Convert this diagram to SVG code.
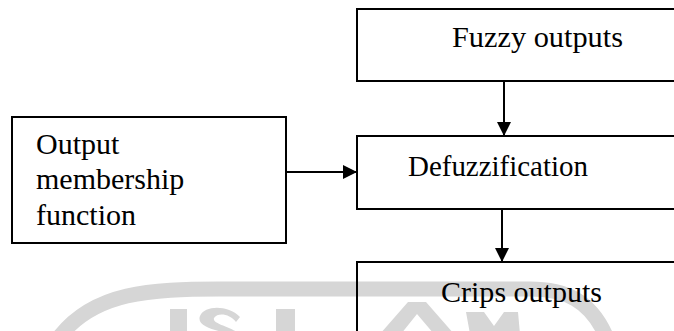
<svg xmlns="http://www.w3.org/2000/svg" width="674" height="331" viewBox="0 0 674 331">
  <style>
    .box { fill: none; stroke: #000; stroke-width: 2; }
    .lbl { font-family: "Liberation Serif", "Times New Roman", serif; font-size: 30px; fill: #000; }
    .wm { fill: #d6d6d6; stroke: none; }
    .conn { stroke: #000; stroke-width: 2; fill: none; }
  </style>
  <defs>
    <marker id="arrow" markerUnits="userSpaceOnUse" markerWidth="15" markerHeight="14" refX="14" refY="7" orient="auto">
      <path d="M0,0 L14,7 L0,14 Z" fill="#000"/>
    </marker>
  </defs>
  <rect x="0" y="0" width="674" height="331" fill="#fff"/>

  <g id="watermark">
    <path d="M 60 336 C 95 292, 150 289, 220 289 L 530 289 C 565 289, 590 300, 606 336" fill="none" stroke="#d6d6d6" stroke-width="15"/>
    <rect class="wm" x="170" y="309" width="17" height="25"/>
    <path d="M 240 317 C 228 305, 205 305, 200 316 C 196 326, 215 330, 226 333 L 238 333 C 230 326, 212 324, 214 318 C 218 312, 230 314, 236 322 Z" class="wm"/>
    <rect class="wm" x="276" y="309" width="19" height="25"/>
    <polygon class="wm" points="408,302 426,302 454,334 434,334 417,314 401,334 380,334"/>
    <polygon class="wm" points="466,312 484,312 494,326 504,312 518,312 520,334 504,334 494,334 480,334 470,334"/>
  </g>

  <g id="node-fuzzy">
    <rect class="box" x="357" y="9" width="330" height="72"/>
    <text class="lbl" x="452" y="47" textLength="171" lengthAdjust="spacingAndGlyphs">Fuzzy outputs</text>
  </g>

  <g id="node-defuzz">
    <rect class="box" x="357" y="136" width="330" height="73"/>
    <text class="lbl" x="408" y="176" textLength="180" lengthAdjust="spacingAndGlyphs">Defuzzification</text>
  </g>

  <g id="node-crisp">
    <rect class="box" x="357" y="262" width="330" height="80"/>
    <text class="lbl" x="441" y="302" textLength="161" lengthAdjust="spacingAndGlyphs">Crips outputs</text>
  </g>

  <g id="node-membership">
    <rect class="box" x="12" y="117" width="274" height="126"/>
    <text class="lbl" x="36" y="154">Output</text>
    <text class="lbl" x="36" y="189">membership</text>
    <text class="lbl" x="36" y="225">function</text>
  </g>

  <g id="connectors">
    <line class="conn" x1="504" y1="81" x2="504" y2="136" marker-end="url(#arrow)"/>
    <line class="conn" x1="286" y1="172" x2="357" y2="172" marker-end="url(#arrow)"/>
    <line class="conn" x1="502" y1="209" x2="502" y2="262" marker-end="url(#arrow)"/>
  </g>
</svg>
